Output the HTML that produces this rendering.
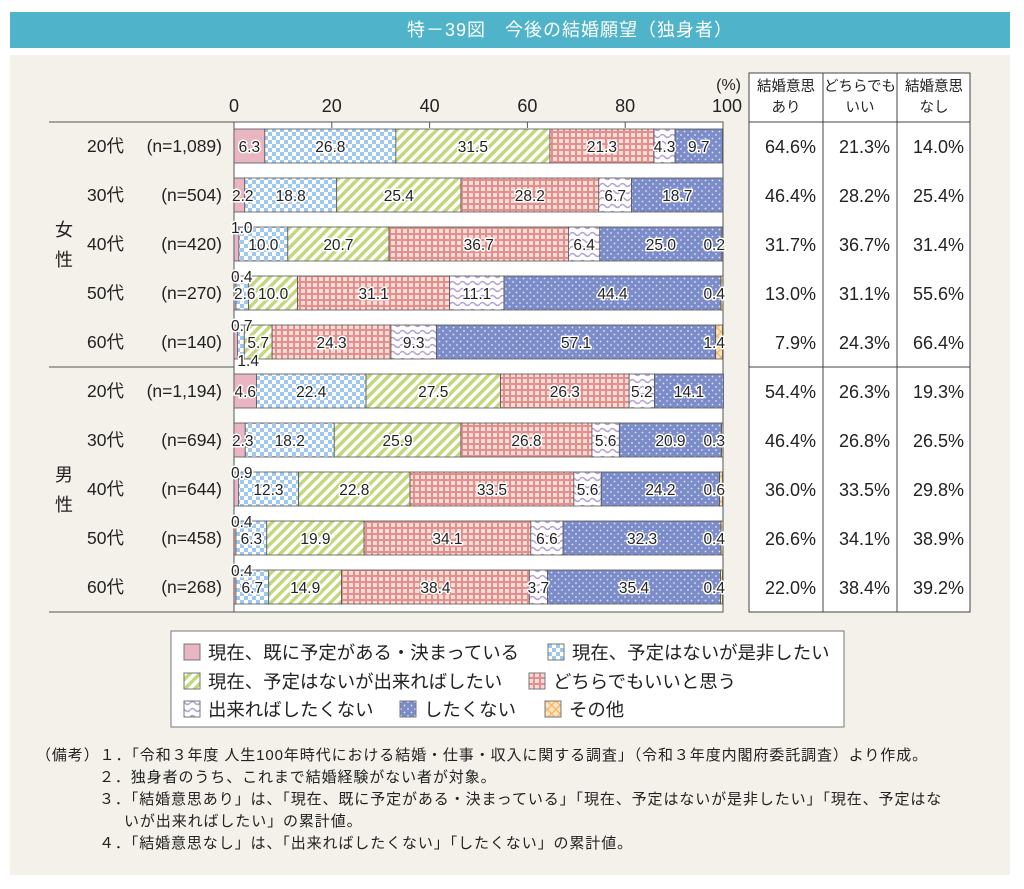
<!DOCTYPE html>
<html><head><meta charset="utf-8">
<style>
body{margin:0;width:1024px;height:889px;background:#fff;font-family:"Liberation Sans","Noto Sans CJK JP",sans-serif;overflow:hidden}
#title{position:absolute;left:10px;top:12px;width:1000px;height:36px;background:#4fb3c9;color:#fff;font-size:18px;line-height:36px;text-align:center;letter-spacing:1px;box-sizing:border-box;padding-left:120px}
#panel{position:absolute;left:10px;top:55px;width:1000px;height:820px;background:#f4f1ea}
svg{position:absolute;left:0;top:0}
.notes{position:absolute;left:36px;top:745px;font-size:15px;letter-spacing:0.9px;color:#222;line-height:22px;white-space:nowrap}
</style></head><body>
<div id="title">特－39図　今後の結婚願望（独身者）</div>
<div id="panel"></div>
<svg id="chart" width="1024" height="889"></svg>
<div class="notes">
<div>（備考）１．「令和３年度 人生100年時代における結婚・仕事・収入に関する調査」（令和３年度内閣府委託調査）より作成。</div>
<div style="padding-left:63px">２．独身者のうち、これまで結婚経験がない者が対象。</div>
<div style="padding-left:63px">３．「結婚意思あり」は、「現在、既に予定がある・決まっている」「現在、予定はないが是非したい」「現在、予定はな</div>
<div style="padding-left:88px">いが出来ればしたい」の累計値。</div>
<div style="padding-left:63px">４．「結婚意思なし」は、「出来ればしたくない」「したくない」の累計値。</div>
</div>
<script>
const ages=["20代","30代","40代","50代","60代","20代","30代","40代","50代","60代"];
const ns=["(n=1,089)","(n=504)","(n=420)","(n=270)","(n=140)","(n=1,194)","(n=694)","(n=644)","(n=458)","(n=268)"];
const seriesNames=["現在、既に予定がある・決まっている","現在、予定はないが是非したい","現在、予定はないが出来ればしたい","どちらでもいいと思う","出来ればしたくない","したくない","その他"];
const s0=[6.3,2.2,1.0,0.4,0.7,4.6,2.3,0.9,0.4,0.4];
const s1=[26.8,18.8,10.0,2.6,1.4,22.4,18.2,12.3,6.3,6.7];
const s2=[31.5,25.4,20.7,10.0,5.7,27.5,25.9,22.8,19.9,14.9];
const s3=[21.3,28.2,36.7,31.1,24.3,26.3,26.8,33.5,34.1,38.4];
const s4=[4.3,6.7,6.4,11.1,9.3,5.2,5.6,5.6,6.6,3.7];
const s5=[9.7,18.7,25.0,44.4,57.1,14.1,20.9,24.2,32.3,35.4];
const s6=[0,0,0.2,0.4,1.4,0,0.3,0.6,0.4,0.4];
const colYes=["64.6%","46.4%","31.7%","13.0%","7.9%","54.4%","46.4%","36.0%","26.6%","22.0%"];
const colMid=["21.3%","28.2%","36.7%","31.1%","24.3%","26.3%","26.8%","33.5%","34.1%","38.4%"];
const colNo=["14.0%","25.4%","31.4%","55.6%","66.4%","19.3%","26.5%","29.8%","38.9%","39.2%"];
const ticks=[0,20,40,60,80,100];
const series=[s0,s1,s2,s3,s4,s5,s6];
const NS="http://www.w3.org/2000/svg";
const svg=document.getElementById('chart');
const X0=234,X1=723,TOP=122,ROWH=49;
const x=v=>X0+(X1-X0)*v/100;
const yc=i=>TOP+ROWH*i+24;
function mk(t,a,p){const e=document.createElementNS(NS,t);for(const k in a)e.setAttribute(k,a[k]);(p||svg).appendChild(e);return e;}
const defs=mk('defs',{});
defs.innerHTML=`
<pattern id="p0" width="4" height="4" patternUnits="userSpaceOnUse"><rect width="4" height="4" fill="#e9b5c1"/></pattern>
<pattern id="p1" width="8" height="8" patternUnits="userSpaceOnUse"><rect width="8" height="8" fill="#fff"/><rect width="4" height="4" fill="#9fc8ee"/><rect x="4" y="4" width="4" height="4" fill="#9fc8ee"/></pattern>
<pattern id="p2" width="7" height="7" patternUnits="userSpaceOnUse" patternTransform="rotate(45)"><rect width="7" height="7" fill="#fff"/><rect width="3.5" height="7" fill="#c3d77c"/></pattern>
<pattern id="p3" width="6" height="6" patternUnits="userSpaceOnUse"><rect width="6" height="6" fill="#e48f8c"/><rect x="1" y="1" width="4" height="4" fill="#f8dcd8"/></pattern>
<pattern id="p4" width="10" height="7" patternUnits="userSpaceOnUse"><rect width="10" height="7" fill="#fff"/><path d="M0 3 Q2.5 0 5 3 T10 3" stroke="#b4a1d6" stroke-width="1.6" fill="none"/></pattern>
<pattern id="p5" width="7" height="7" patternUnits="userSpaceOnUse"><rect width="7" height="7" fill="#7b8cc8"/><circle cx="2" cy="2" r="0.9" fill="#dfe4f5"/><circle cx="5.5" cy="5.5" r="0.9" fill="#dfe4f5"/></pattern>
<pattern id="p6" width="6" height="6" patternUnits="userSpaceOnUse" patternTransform="rotate(45)"><rect width="6" height="6" fill="#fbe3bd"/><rect width="1.3" height="6" fill="#f2b86a"/><rect width="6" height="1.3" fill="#f2b86a"/></pattern>`;
mk('rect',{x:X0,y:TOP,width:X1-X0,height:ROWH*10,fill:'#fff',stroke:'#555','stroke-width':1});
mk('rect',{x:749,y:73,width:221,height:539,fill:'#fff',stroke:'#444','stroke-width':1});
mk('line',{x1:749,y1:122,x2:970,y2:122,stroke:'#444'});
mk('line',{x1:823,y1:73,x2:823,y2:612,stroke:'#444'});
mk('line',{x1:897,y1:73,x2:897,y2:612,stroke:'#444'});
mk('line',{x1:49,y1:122,x2:X0,y2:122,stroke:'#555'});
mk('line',{x1:49,y1:367,x2:X0,y2:367,stroke:'#555'});
mk('line',{x1:749,y1:367,x2:970,y2:367,stroke:'#444'});
mk('line',{x1:49,y1:612,x2:X0,y2:612,stroke:'#555'});
ticks.forEach(t=>{
 const tl=mk('text',{x:x(t),y:112,'font-size':18,'text-anchor':t==100?'end':'middle',fill:'#222'});
 if(t==100)tl.setAttribute('x',x(t)+19);
 
 
 tl.textContent=t;
 if(t>0&&t<100)mk('line',{x1:x(t),y1:TOP,x2:x(t),y2:TOP+6,stroke:'#555'});
});
const pct=mk('text',{x:741,y:90,'font-size':16,'text-anchor':'end',fill:'#222'});pct.textContent='(%)';


const hdr=[["結婚意思","あり"],["どちらでも","いい"],["結婚意思","なし"]];
hdr.forEach((h,k)=>{h.forEach((s,j)=>{const t=mk('text',{x:786+74*k,y:91+21*j,'font-size':14.5,'text-anchor':'middle',fill:'#222'});t.textContent=s;
 
 });});
[["女",230,260],["男",475,505]].forEach(g=>{[g[0],"性"].forEach((c,j)=>{const t=mk('text',{x:64,y:g[1+j]+6,'font-size':18,'text-anchor':'middle',fill:'#222'});t.textContent=c;
 
 });});
const BH=34;
const labels=[];
for(let i=0;i<10;i++){
 const cy=yc(i);
 const a=mk('text',{x:87,y:cy+6,'font-size':17.5,fill:'#222'});a.textContent=ages[i];
 
 
 const n=mk('text',{x:222,y:cy+6,'font-size':17.5,'text-anchor':'end',fill:'#222'});n.textContent=ns[i];
 
 
 let acc=0;
 series.forEach((s,k)=>{
  const v=s[i];if(v<=0){return;}
  const r=mk('rect',{x:x(acc),y:cy-BH/2,width:x(acc+v)-x(acc),height:BH,fill:`url(#p${k})`,stroke:'#555','stroke-width':0.8});
  
  
  let lx=(x(acc)+x(acc+v))/2,ly=cy+6,anchor='middle';
  if(k==0&&v<1.2){lx=x(acc)-3;ly=cy-11;anchor='start';}
  else if(k==1&&v<2){lx=x(acc);ly=cy+24;anchor='start';}
  else if(k==6){lx=x(100)+2;anchor='end';}
  else if(v<3.5&&k<2){lx=x(acc)-2;anchor='start';}
  labels.push([lx,ly,anchor,v.toFixed(1)]);
  acc+=v;
 });
 [colYes,colMid,colNo].forEach((c,k)=>{const t=mk('text',{x:816+74*k,y:cy+7,'font-size':18,'text-anchor':'end',fill:'#222'});t.textContent=c[i];
  
  });
}
labels.forEach(L=>{
 const t=mk('text',{x:L[0],y:L[1],'font-size':15.5,'text-anchor':L[2],fill:'#222',stroke:'#fff','stroke-width':3,'paint-order':'stroke','stroke-linejoin':'round'});
 
 
 t.textContent=L[3];
});
mk('rect',{x:171,y:631,width:673,height:96,fill:'#fff',stroke:'#777'});
const legPos=[[184,652],[548,652],[184,681],[529,681],[184,709],[400,709],[545,709]];
seriesNames.forEach((nm,k)=>{
 const [lx,ly]=legPos[k];
 const r=mk('rect',{x:lx,y:ly-8,width:16,height:16,fill:`url(#p${k})`,stroke:'#777'});
 
 
 const t=mk('text',{x:lx+24,y:ly+7,'font-size':18.4,fill:'#222'});t.textContent=nm;
 
 
});
</script>
</body></html>
